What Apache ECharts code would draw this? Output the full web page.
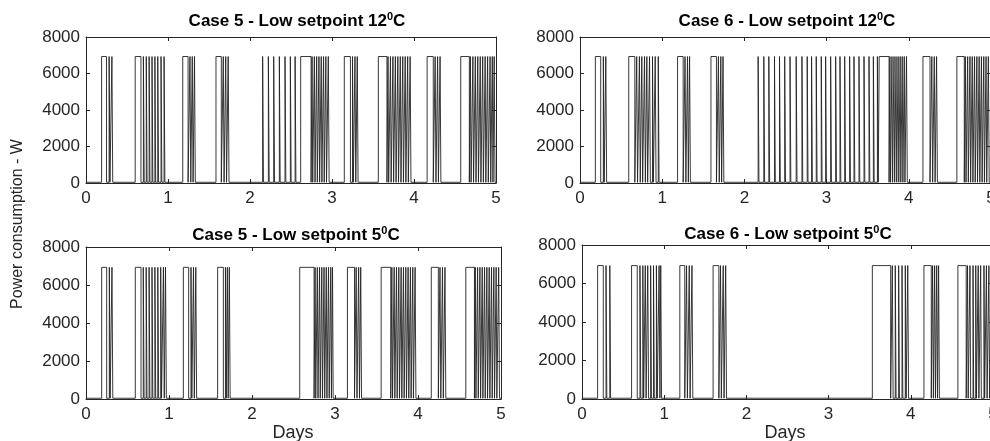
<!DOCTYPE html>
<html><head><meta charset="utf-8">
<script src="https://cdn.jsdelivr.net/npm/echarts@6/dist/echarts.min.js"></script>
<style>html,body{margin:0;padding:0;background:#fff}#c{width:990px;height:441px}</style>
</head><body><div id="c"></div>
<script>
// ---- data (days, W) ----
const xTicks = [0, 1, 2, 3, 4, 5];
const yTicks = [0, 2000, 4000, 6000, 8000];
const onPower = 6930;
const offPower = 40;
const titleMain = ['Case 5 - Low setpoint 12', 'Case 6 - Low setpoint 12', 'Case 5 - Low setpoint 5', 'Case 6 - Low setpoint 5'];
const titleSup = '0';
const titleEnd = 'C';
const yName = 'Power consumption - W';
const xName = 'Days';

// compressor ON intervals [start, end] in days
const case5_12 = [
  [0.190,0.250],[0.282,0.292],[0.316,0.326],
  [0.600,0.670],[0.700,0.710],[0.735,0.745],[0.770,0.780],[0.805,0.815],[0.840,0.850],[0.875,0.885],[0.915,0.925],[0.952,0.962],
  [1.180,1.245],[1.268,1.278],[1.296,1.306],[1.323,1.333],
  [1.585,1.650],[1.674,1.684],[1.704,1.714],[1.734,1.744],
  [2.154,2.164],[2.224,2.234],[2.289,2.299],[2.358,2.368],[2.427,2.437],[2.492,2.502],[2.550,2.560],
  [2.618,2.745],[2.757,2.765],[2.785,2.793],[2.813,2.821],[2.841,2.849],[2.869,2.877],[2.897,2.905],[2.925,2.933],[2.955,2.965],
  [3.150,3.225],[3.250,3.260],[3.280,3.290],[3.308,3.318],
  [3.565,3.670],[3.683,3.691],[3.713,3.721],[3.743,3.751],[3.773,3.781],[3.803,3.811],[3.833,3.841],[3.863,3.871],[3.893,3.901],[3.923,3.931],[3.953,3.963],
  [4.160,4.235],[4.258,4.268],[4.288,4.298],[4.318,4.328],
  [4.570,4.675],[4.688,4.696],[4.718,4.726],[4.748,4.756],[4.778,4.786],[4.808,4.816],[4.838,4.846],[4.868,4.876],[4.898,4.906],[4.928,4.936],[4.955,4.963],[4.978,4.988]
];
const case6_12 = [
  [0.187,0.252],[0.284,0.294],[0.314,0.324],
  [0.593,0.667],[0.690,0.700],[0.723,0.733],[0.752,0.762],[0.785,0.795],[0.813,0.823],[0.846,0.856],[0.882,0.892],[0.915,0.925],[0.952,0.962],
  [1.187,1.255],[1.278,1.288],[1.308,1.318],[1.333,1.343],
  [1.593,1.660],[1.684,1.694],[1.713,1.723],[1.740,1.750],
  [2.167,2.177],[2.236,2.246],[2.297,2.307],[2.366,2.376],[2.427,2.437],[2.490,2.500],[2.555,2.565],[2.630,2.640],[2.700,2.710],[2.764,2.774],[2.817,2.827],[2.874,2.884],[2.935,2.945],[2.988,2.998],[3.049,3.059],[3.110,3.120],[3.163,3.173],[3.220,3.230],[3.280,3.290],[3.333,3.343],[3.394,3.404],[3.455,3.465],[3.516,3.526],[3.569,3.579],[3.618,3.628],
  [3.640,3.760],[3.770,3.778],[3.795,3.803],[3.820,3.828],[3.845,3.853],[3.870,3.878],[3.895,3.903],[3.920,3.928],[3.945,3.953],[3.972,3.982],
  [4.172,4.258],[4.280,4.290],[4.310,4.320],[4.338,4.348],
  [4.585,4.675],[4.688,4.696],[4.716,4.724],[4.744,4.752],[4.772,4.780],[4.800,4.808],[4.828,4.836],[4.856,4.864],[4.884,4.892],[4.912,4.920],[4.940,4.948],[4.968,4.978]
];
const case5_5 = [
  [0.189,0.249],[0.281,0.291],[0.313,0.323],
  [0.594,0.663],[0.690,0.700],[0.725,0.735],[0.760,0.770],[0.795,0.805],[0.830,0.840],[0.865,0.875],[0.900,0.910],[0.933,0.943],[0.958,0.968],
  [1.173,1.237],[1.265,1.275],[1.295,1.305],[1.323,1.333],
  [1.586,1.655],[1.680,1.690],[1.703,1.713],[1.727,1.737],
  [2.575,2.748],[2.760,2.768],[2.787,2.795],[2.814,2.822],[2.841,2.849],[2.868,2.876],[2.895,2.903],[2.922,2.930],[2.949,2.957],[2.970,2.978],
  [3.150,3.235],[3.255,3.265],[3.285,3.295],[3.310,3.320],
  [3.556,3.672],[3.685,3.693],[3.713,3.721],[3.741,3.749],[3.769,3.777],[3.797,3.805],[3.825,3.833],[3.853,3.861],[3.881,3.889],[3.909,3.917],[3.937,3.945],[3.965,3.975],
  [4.160,4.245],[4.265,4.275],[4.295,4.305],[4.325,4.335],
  [4.576,4.680],[4.690,4.698],[4.718,4.726],[4.746,4.754],[4.774,4.782],[4.802,4.810],[4.830,4.838],[4.858,4.866],[4.886,4.894],[4.914,4.922],[4.942,4.950],[4.972,4.982]
];
const case6_5 = [
  [0.190,0.259],[0.292,0.302],[0.338,0.348],
  [0.603,0.672],[0.705,0.715],[0.740,0.750],[0.770,0.780],[0.800,0.810],[0.835,0.845],[0.870,0.880],[0.905,0.915],[0.938,0.948],[0.958,0.968],
  [1.190,1.250],[1.272,1.282],[1.305,1.315],[1.338,1.348],
  [1.595,1.665],[1.685,1.695],[1.718,1.728],[1.748,1.758],
  [3.532,3.755],[3.775,3.785],[3.811,3.821],[3.852,3.862],[3.893,3.903],[3.933,3.943],[3.963,3.973],
  [4.160,4.249],[4.265,4.275],[4.290,4.300],[4.315,4.325],[4.338,4.348],
  [4.573,4.674],[4.690,4.698],[4.720,4.728],[4.757,4.765],[4.790,4.798],[4.820,4.828],[4.850,4.858],[4.890,4.898],[4.920,4.928],[4.950,4.958],[4.980,4.990]
];
const panels = [case5_12, case6_12, case5_5, case6_5];

// ---- layout ----
const grids = [
  {left: 86, top: 37, width: 410, height: 146},
  {left: 580, top: 37, width: 411, height: 146},
  {left: 86, top: 247, width: 415, height: 152},
  {left: 582, top: 245, width: 411, height: 154}
];
const titlePos = [[297, 21], [787, 21], [296, 235], [788, 234]];
const FONT = 'Liberation Sans, Arial, Helvetica, sans-serif';
const AX = '#262626';

function toSteps(pulses) {
  const pts = [[xTicks[0], offPower]];
  pulses.forEach(([a, b]) => {
    pts.push([a, offPower], [a, onPower], [b, onPower], [b, offPower]);
  });
  pts.push([xTicks[xTicks.length - 1], offPower]);
  return pts;
}

const xAxis = [], yAxis = [], series = [], graphic = [];
grids.forEach((g, i) => {
  const common = {
    gridIndex: i, type: 'value', splitLine: {show: false},
    axisLine: {show: true, onZero: false, lineStyle: {color: AX, width: 1}},
    axisTick: {show: true, inside: true, length: 4, lineStyle: {color: AX}}
  };
  xAxis.push(Object.assign({}, common, {
    position: 'bottom', min: xTicks[0], max: xTicks[xTicks.length - 1], interval: 1,
    axisLabel: {fontSize: 17, color: AX, margin: 7, fontFamily: FONT, showMaxLabel: true, hideOverlap: false}
  }));
  xAxis.push(Object.assign({}, common, {
    position: 'top', min: xTicks[0], max: xTicks[xTicks.length - 1], interval: 1,
    axisLabel: {show: false}
  }));
  yAxis.push(Object.assign({}, common, {
    position: 'left', min: yTicks[0], max: yTicks[yTicks.length - 1], interval: 2000,
    axisLabel: {fontSize: 17, color: AX, margin: 6, fontFamily: FONT, formatter: v => String(v)}
  }));
  yAxis.push(Object.assign({}, common, {
    position: 'right', min: yTicks[0], max: yTicks[yTicks.length - 1], interval: 2000,
    axisLabel: {show: false}
  }));
  series.push({
    type: 'line', xAxisIndex: 2 * i, yAxisIndex: 2 * i,
    data: toSteps(panels[i]), symbol: 'none', showSymbol: false,
    lineStyle: {color: '#222', width: 0.9}, clip: true, silent: true
  });
  graphic.push({
    type: 'text', x: titlePos[i][0], y: titlePos[i][1],
    style: {
      text: '{a|' + titleMain[i] + '}{s|' + titleSup + '}{a|' + titleEnd + '}',
      align: 'center', verticalAlign: 'middle',
      rich: {
        a: {fontSize: 17, fontWeight: 'bold', fontFamily: FONT, fill: '#000', color: '#000', lineHeight: 20},
        s: {fontSize: 11, fontWeight: 'bold', fontFamily: FONT, fill: '#000', color: '#000', lineHeight: 20, verticalAlign: 'top', padding: [0, 0, 10, 0]}
      }
    }
  });
});
graphic.push({
  type: 'text', x: 18, y: 224, rotation: Math.PI / 2,
  style: {text: yName, align: 'center', verticalAlign: 'middle', fontSize: 16, fontFamily: FONT, fill: AX}
});
graphic.push({
  type: 'text', x: 293, y: 433,
  style: {text: xName, align: 'center', verticalAlign: 'middle', fontSize: 18, fontFamily: FONT, fill: AX}
});
graphic.push({
  type: 'text', x: 785, y: 433,
  style: {text: xName, align: 'center', verticalAlign: 'middle', fontSize: 18, fontFamily: FONT, fill: AX}
});

const chart = echarts.init(document.getElementById('c'), null, {renderer: 'canvas'});
chart.setOption({
  animation: false,
  backgroundColor: '#fff',
  grid: grids.map(g => Object.assign({containLabel: false, outerBoundsMode: 'none'}, g)),
  xAxis, yAxis, series, graphic
});
</script>
</body></html>
